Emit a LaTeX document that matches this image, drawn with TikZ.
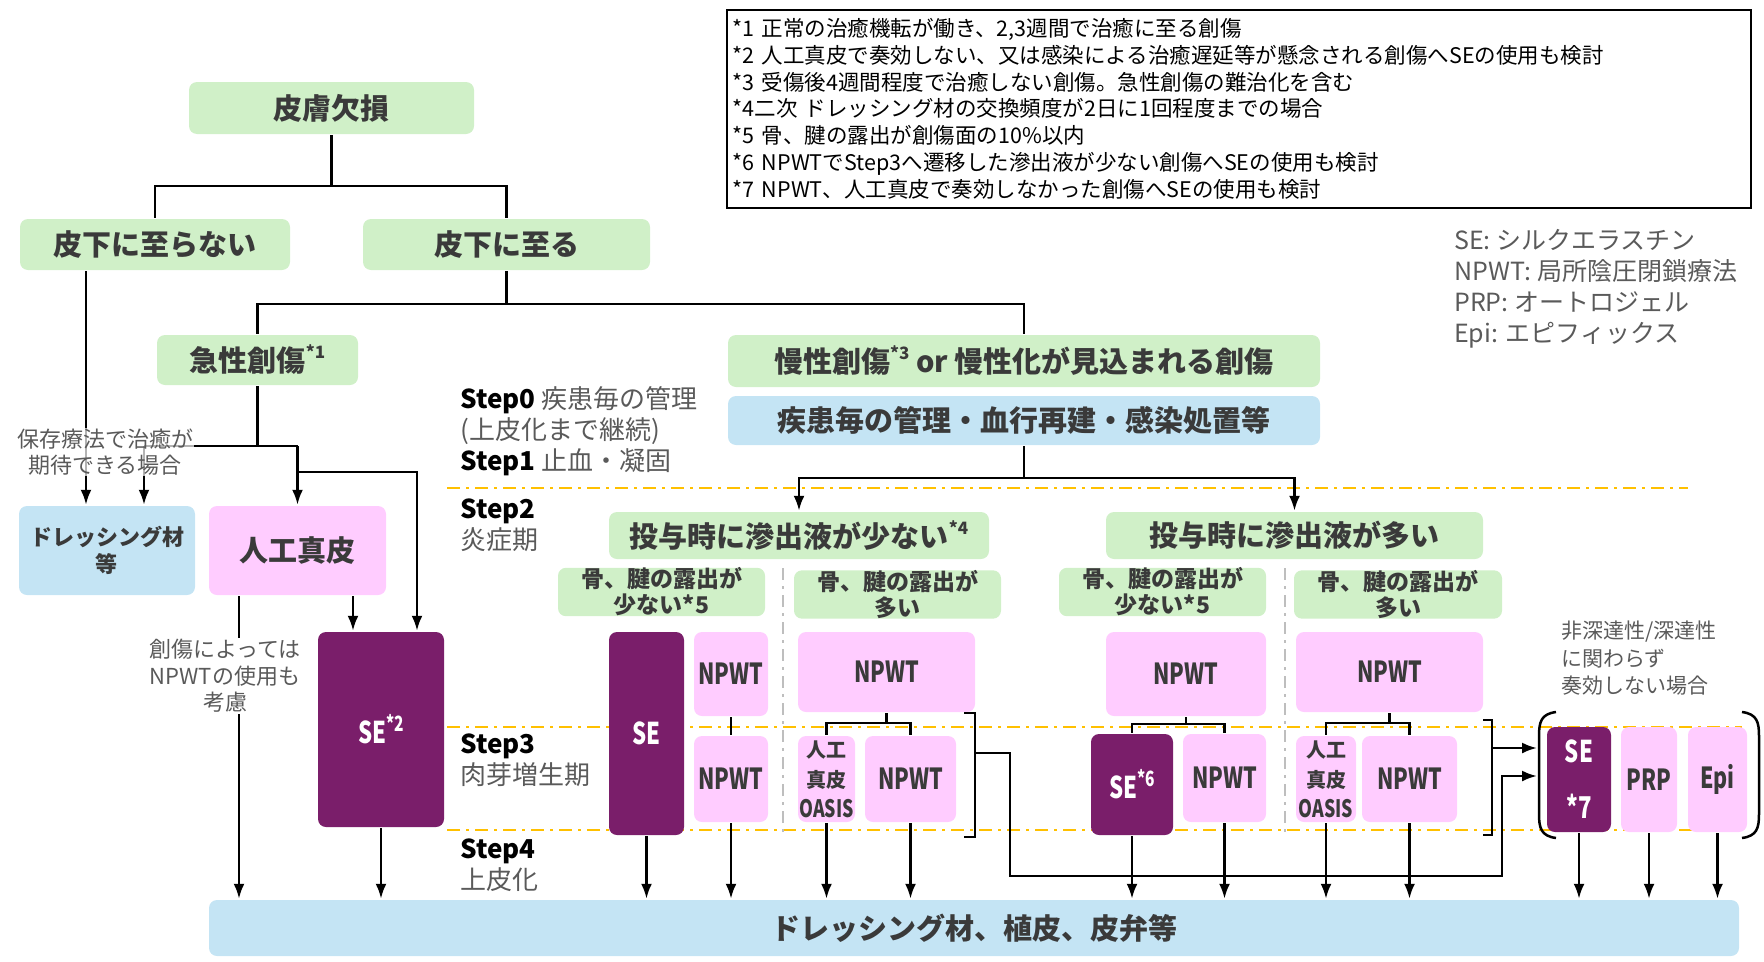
\documentclass[tikz,border=0pt]{standalone}
\usepackage{fontspec}
\setmainfont{Noto Sans CJK JP}
\newfontfamily\condfont[FakeStretch=0.74]{Noto Sans CJK JP}
\usepackage{tikz}
\usetikzlibrary{arrows.meta}
\definecolor{boxgreen}{RGB}{208,240,200}
\definecolor{boxblue}{RGB}{196,228,244}
\definecolor{boxpink}{RGB}{255,204,255}
\definecolor{sepurple}{RGB}{122,30,106}
\definecolor{boxtext}{RGB}{58,58,58}
\definecolor{notegray}{RGB}{90,90,90}
\definecolor{stepyellow}{RGB}{255,192,0}
\definecolor{dividergray}{RGB}{190,190,190}
\tikzstyle{greenbox}=[rectangle, rounded corners=8pt, fill=boxgreen, text=boxtext, inner sep=0pt, align=center, font=\bfseries\fontsize{29}{35}\selectfont]
\tikzstyle{subgreen}=[greenbox, font=\bfseries\fontsize{23}{26}\selectfont]
\tikzstyle{bluebox}=[rectangle, rounded corners=8pt, fill=boxblue, text=boxtext, inner sep=0pt, align=center, font=\bfseries\fontsize{29}{35}\selectfont]
\tikzstyle{pinkbox}=[rectangle, rounded corners=8pt, fill=boxpink, text=boxtext, inner sep=0pt, align=center, font=\condfont\bfseries\fontsize{29}{30}\selectfont]
\tikzstyle{oasisbox}=[pinkbox, font=\bfseries\fontsize{20}{30}\selectfont]
\tikzstyle{sebox}=[rectangle, rounded corners=8pt, fill=sepurple, text=white, inner sep=0pt, align=center, font=\condfont\bfseries\fontsize{30}{56}\selectfont]
\tikzstyle{stepline}=[draw=stepyellow, line width=2.6pt, dash pattern=on 13pt off 6pt on 3pt off 6pt]
\tikzstyle{divider}=[draw=dividergray, line width=2pt, dash pattern=on 12pt off 6pt on 3pt off 6pt]
\tikzstyle{note}=[text=notegray, align=center, inner sep=1pt, font=\fontsize{22}{26.5}\selectfont]
\tikzstyle{steplabel}=[anchor=west, align=left, inner sep=0pt, text=notegray, font=\fontsize{26}{31}\selectfont]
\tikzstyle{notebox}=[draw, line width=1.6pt, anchor=north west, align=left, text width=1012pt, minimum width=1024pt, minimum height=198pt, inner xsep=6pt, font=\fontsize{21.5}{26.7}\selectfont]
\newcommand{\greenbox}[5]{
	\node[greenbox, minimum width=#3, minimum height=#4] (#1) at (#2) {#5};}
\newcommand{\subgreen}[5]{
	\node[subgreen, minimum width=#3, minimum height=#4] (#1) at (#2) {#5};}
\newcommand{\bluebox}[5]{
	\node[bluebox, minimum width=#3, minimum height=#4] (#1) at (#2) {#5};}
\newcommand{\pinkbox}[5]{
	\node[pinkbox, minimum width=#3, minimum height=#4] (#1) at (#2) {#5};}
\newcommand{\oasisbox}[4]{
	\node[oasisbox, minimum width=#3, minimum height=#4] (#1) at (#2) {人工\\真皮\\{\condfont\fontsize{24}{26}\selectfont OASIS}};}
\newcommand{\sebox}[5]{
	\node[sebox, minimum width=#3, minimum height=#4] (#1) at (#2) {#5};}
\newcommand{\supmark}[1]{\raisebox{0.45em}{\fontsize{17}{17}\selectfont #1}}
\newcommand{\sesup}[1]{\raisebox{0.4em}{\fontsize{21}{21}\selectfont #1}}
\newcommand{\stepname}[1]{{\color{black}\bfseries Step#1}}

\begin{document}
\begin{tikzpicture}[x=1pt, y=-1pt, >={Latex[length=15pt,width=11pt]}, line width=2.5pt]
\useasboundingbox (0,0) rectangle (1764,961);
% step boundaries
\draw[stepline] (447,488) -- (1688,488);
\draw[stepline] (447,727) -- (1742,727);
\draw[stepline] (447,830) -- (1742,830);
\draw[divider] (783,568) -- (783,832);
\draw[divider] (1285,568) -- (1285,832);

\node[notebox] (notes) at (726,9) {{*}1 正常の治癒機転が働き、2,3週間で治癒に至る創傷\\
{*}2 人工真皮で奏効しない、又は感染による治癒遅延等が懸念される創傷へSEの使用も検討\\
{*}3 受傷後4週間程度で治癒しない創傷。急性創傷の難治化を含む\\
{*}4二次 ドレッシング材の交換頻度が2日に1回程度までの場合\\
{*}5 骨、腱の露出が創傷面の10\%以内\\
{*}6 NPWTでStep3へ遷移した滲出液が少ない創傷へSEの使用も検討\\
{*}7 NPWT、人工真皮で奏効しなかった創傷へSEの使用も検討};
\node[note, anchor=north west, align=left, font=\fontsize{25}{31}\selectfont] (legend) at (1452,227) {SE: シルクエラスチン\\NPWT: 局所陰圧閉鎖療法\\PRP: オートロジェル\\Epi: エピフィックス};

\greenbox{skinloss}{331.5,108}{285}{52}{皮膚欠損}
\greenbox{notsub}{155,244.5}{270}{51}{皮下に至らない}
\greenbox{sub}{506.5,244.5}{287}{51}{皮下に至る}
\greenbox{acute}{257.5,360}{201}{50}{急性創傷\supmark{*1}}
\greenbox{chronic}{1024,361}{592}{52}{慢性創傷\supmark{*3} or\ 慢性化が見込まれる創傷}
\bluebox{mgmt}{1024,420.5}{592}{49}{疾患毎の管理・血行再建・感染処置等}
\greenbox{fewexu}{799,535.5}{380}{47}{投与時に滲出液が少ない\supmark{*4}}
\greenbox{manyexu}{1294.5,535.5}{377}{47}{投与時に滲出液が多い}
\subgreen{boneA1}{661.5,592}{207}{46}{骨、腱の露出が\\少ない*5}
\subgreen{boneA2}{897.5,594.5}{207}{47}{骨、腱の露出が\\多い}
\subgreen{boneB1}{1162.5,592}{207}{46}{骨、腱の露出が\\少ない*5}
\subgreen{boneB2}{1398,594.5}{208}{47}{骨、腱の露出が\\多い}

\node[steplabel] (step01) at (459,431) {\stepname{0} 疾患毎の管理\\(上皮化まで継続)\\\stepname{1} 止血・凝固};
\node[steplabel] (step2) at (459,525.5) {\stepname{2}\\炎症期};
\node[steplabel] (step3) at (459,760) {\stepname{3}\\肉芽増生期};
\node[steplabel] (step4) at (459,865.5) {\stepname{4}\\上皮化};

\node[bluebox, minimum width=176, minimum height=89, font=\bfseries\fontsize{22}{27}\selectfont] (dress) at (107,550.5) {ドレッシング材\\等};
\node[pinkbox, minimum width=177, minimum height=89, font=\bfseries\fontsize{29}{35}\selectfont] (art) at (297.5,550.5) {人工真皮};
\sebox{se2}{381,729.5}{126}{195}{SE\sesup{*2}}
\sebox{seA}{646.5,733.5}{75}{203}{SE}
\pinkbox{npwtA1}{731,674}{74}{84}{NPWT}
\pinkbox{npwtA2}{731,779}{74}{86}{NPWT}
\pinkbox{npwtA3}{886.5,672}{177}{80}{NPWT}
\oasisbox{oasisA}{826.5,779}{57}{86}
\pinkbox{npwtA4}{910.5,779}{91}{86}{NPWT}
\pinkbox{npwtB1}{1186,674}{160}{84}{NPWT}
\sebox{se6}{1132,784.5}{82}{101}{SE\sesup{*6}}
\pinkbox{npwtB2}{1224.5,778}{83}{88}{NPWT}
\pinkbox{npwtB3}{1389.5,672}{187}{80}{NPWT}
\oasisbox{oasisB}{1326,779}{60}{86}
\pinkbox{npwtB4}{1409.5,779}{95}{86}{NPWT}
\sebox{se7}{1579,779.5}{64}{105}{SE\\{*}7}
\pinkbox{prp}{1649,779.5}{56}{105}{PRP}
\pinkbox{epi}{1717.5,779.5}{59}{105}{Epi}
\bluebox{bottom}{974,928}{1530}{56}{ドレッシング材、植皮、皮弁等}

% tree
\coordinate (c1) at (331.5,186);
\coordinate (c2) at (506.5,304);
\coordinate (c3) at (1024,478);
\draw (skinloss) -- (c1);
\draw (notsub) |- (c1) -| (sub);
\draw (sub) -- (c2);
\draw (acute) |- (c2) -| (chronic);
\draw (mgmt) -- (c3);
\draw [->] (c3) -| (fewexu);
\draw [->] (c3) -| (manyexu);

% acute wounds
\coordinate (c4) at (257.5,446);
\coordinate (c5) at (144,446);
\coordinate (c6) at (297.5,446);
\coordinate (c7) at (297.5,472);
\coordinate (c8) at (417,472);
\draw (acute) -- (c4);
\draw (c5) -- (c6);
\draw [->] ([xshift=-69]notsub.south) -- ([xshift=-21]dress.north);
\draw [->] (c5) -- (c5 |- dress.north);
\draw [->] (c6) -- (art);
\draw [->] (c7) -- (c8) -- (c8 |- se2.north);
\draw [->] ([xshift=55.5]art.south) -- ([xshift=-28]se2.north);
\draw [->] ([xshift=-58.5]art.south) -- ([xshift=-735]bottom.north);
\node[note, fill=white, fill opacity=0.7, text opacity=1] (conserv) at (105,452) {保存療法で治癒が\\期待できる場合};
\node[note, fill=white] (artnote) at (225,676) {創傷によっては\\NPWTの使用も\\考慮};

% step 3 groups
\coordinate (c10) at (886.5,723);
\coordinate (c11) at (1186,724);
\coordinate (c12) at (1389.5,723);
\draw (npwtA1) -- (npwtA2);
\draw (npwtA3) -- (c10);
\draw (oasisA) |- (c10) -| (npwtA4);
\draw (npwtB1) -- (c11);
\draw (se6) |- (c11) -| (npwtB2);
\draw (npwtB3) -- (c12);
\draw (oasisB) |- (c12) -| (npwtB4);
\foreach \n in {se2,seA,npwtA2,oasisA,npwtA4,se6,npwtB2,oasisB,npwtB4,se7,prp,epi}
	\draw [->] (\n) -- (\n |- bottom.north);

% brackets
\draw (964,713) -| (975,837) -- (964,837);
\draw (1483,720) -| (1492,835) -- (1483,835);
\draw (1556,712) .. controls (1541,714) and (1539,722) .. (1539,736) -- (1539,814) .. controls (1539,828) and (1541,836) .. (1556,838);
\draw (1742,712) .. controls (1757,714) and (1759,722) .. (1759,736) -- (1759,814) .. controls (1759,828) and (1757,836) .. (1742,838);
\coordinate (brA) at (975,753);
\coordinate (brB) at (1492,748);
\coordinate (parL) at (1537,779);
\coordinate (r1) at (1010,876);
\coordinate (r2) at (1502,776);
\draw [->] (brB) -- (brB -| parL);
\draw [->] (brA) -| (r1) -| (r2) -- (r2 -| parL);
\node[note, anchor=north west, align=left, font=\fontsize{21}{27.5}\selectfont] (failnote) at (1559,619) {非深達性/深達性\\に関わらず\\奏効しない場合};
\end{tikzpicture}
\end{document}
